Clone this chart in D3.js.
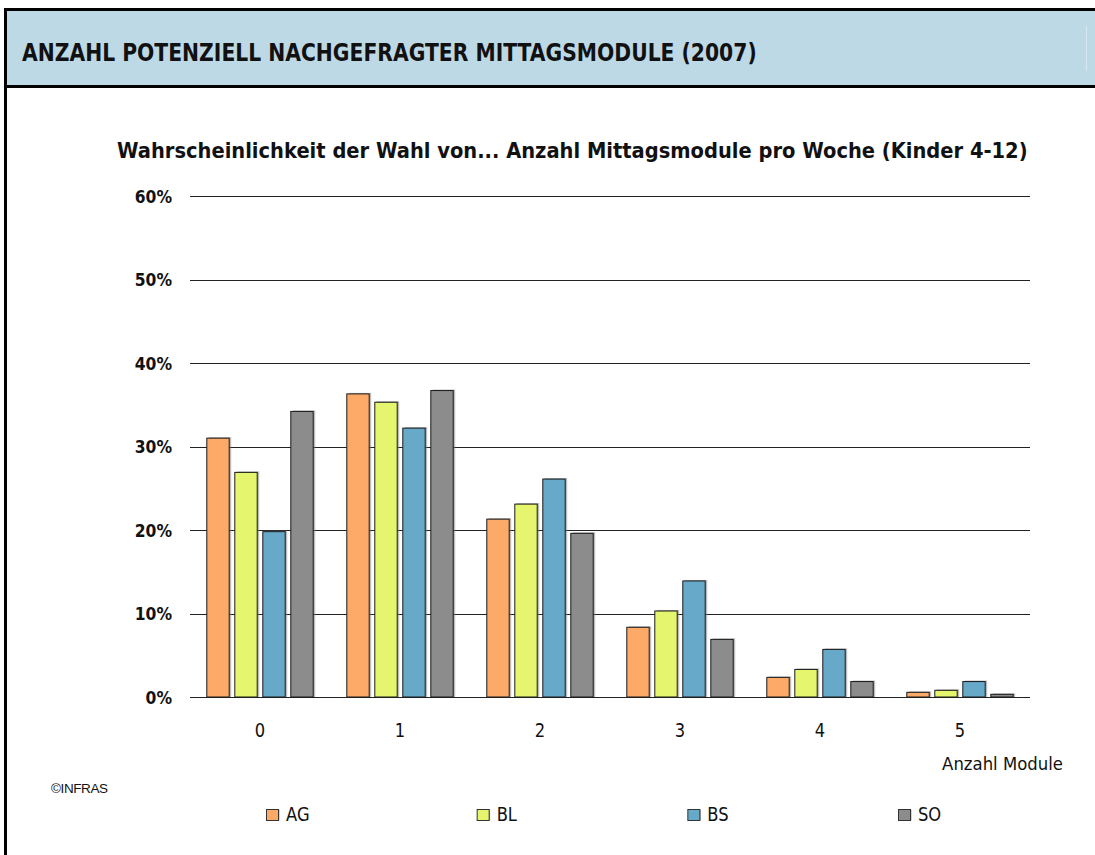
<!DOCTYPE html>
<html>
<head>
<meta charset="utf-8">
<script src="https://cdn.jsdelivr.net/npm/d3@7"></script>
<style>
  body { margin: 0; background: #fff; }
  svg text { font-family: "DejaVu Sans", sans-serif; fill: #111; }
</style>
</head>
<body>
<svg id="chart" width="1095" height="855"></svg>
<script>
// data
var categories = ["0", "1", "2", "3", "4", "5"];
var seriesNames = ["AG", "BL", "BS", "SO"];
var AG = [31.0, 36.3, 21.3, 8.35, 2.35, 0.56];
var BL = [26.9, 35.3, 23.1, 10.3, 3.3, 0.8];
var BS = [19.8, 32.2, 26.1, 13.9, 5.7, 1.85];
var SO = [34.2, 36.7, 19.6, 6.9, 1.85, 0.32];
var yTicks = [0, 10, 20, 30, 40, 50, 60];
var colors = ["#fda968", "#e6f56e", "#66a9c9", "#8c8c8c"];

var svg = d3.select("#chart");
var cfg = {
  left: 190, right: 1030,
  top: 196, bottom: 697,
  condense: 0.86
};

// frame + header band
svg.append("rect").attr("x", 7).attr("y", 11).attr("width", 1088).attr("height", 74).attr("fill", "#bed9e6");
svg.append("rect").attr("x", 4).attr("y", 8).attr("width", 1091).attr("height", 3).attr("fill", "#000");
svg.append("rect").attr("x", 4).attr("y", 85).attr("width", 1091).attr("height", 3).attr("fill", "#000");
svg.append("rect").attr("x", 4).attr("y", 8).attr("width", 3).attr("height", 847).attr("fill", "#000");
svg.append("line").attr("x1", 1086.5).attr("x2", 1086.5).attr("y1", 26).attr("y2", 71)
  .attr("stroke", "#d6e8f0").attr("stroke-width", 1);

// squeeze a text horizontally so it spans w pixels (no condensed face installed)
function placeText(x, y, size, str, w, bold, anchor) {
  var t = svg.append("text")
    .attr("transform", "translate(" + x + "," + y + ")")
    .attr("font-size", size)
    .attr("font-weight", bold ? "bold" : "normal")
    .attr("text-anchor", anchor || "start")
    .text(str);
  var len = t.node().getComputedTextLength();
  var s = w ? w / len : cfg.condense;
  t.attr("transform", "translate(" + x + "," + y + ") scale(" + s.toFixed(4) + ",1)");
  return t;
}

placeText(22, 61, 24.5, "ANZAHL POTENZIELL NACHGEFRAGTER MITTAGSMODULE (2007)", 735, true);
placeText(117, 158, 21, "Wahrscheinlichkeit der Wahl von... Anzahl Mittagsmodule pro Woche (Kinder 4-12)", 911, true);

var x0 = d3.scaleBand().domain(categories).range([cfg.left, cfg.right]).paddingInner(0.24).paddingOuter(0.12);
var x1 = d3.scaleBand().domain(seriesNames).range([0, x0.bandwidth()]).paddingInner(0.2);
var y = d3.scaleLinear().domain([0, 60]).range([cfg.bottom, cfg.top]);

// gridlines via axis
var grid = svg.append("g")
  .attr("transform", "translate(" + cfg.left + ",0)")
  .call(d3.axisRight(y).tickValues(yTicks).tickSize(cfg.right - cfg.left).tickFormat(""));
grid.select(".domain").remove();
grid.selectAll("line").attr("stroke", "#222").attr("shape-rendering", "crispEdges");

// y labels
var yAxis = svg.append("g")
  .attr("transform", "translate(172,0)")
  .call(d3.axisLeft(y).tickValues(yTicks).tickSize(0).tickPadding(0).tickFormat(function(d){ return d + "%"; }));
yAxis.select(".domain").remove();
yAxis.selectAll("text")
  .attr("font-size", 17.5).attr("font-weight", "bold")
  .attr("font-family", null)
  .attr("x", 0).attr("dy", "0.36em").attr("fill", "#111")
  .attr("transform", "scale(0.89,1)");

// x labels
var xAxis = svg.append("g")
  .attr("transform", "translate(0," + cfg.bottom + ")")
  .call(d3.axisBottom(x0).tickSize(0).tickPadding(0));
xAxis.select(".domain").remove();
xAxis.selectAll("text")
  .attr("font-size", 19)
  .attr("font-family", null)
  .attr("y", 40).attr("dy", 0).attr("fill", "#222")
  .attr("transform", "scale(" + cfg.condense + ",1)");

placeText(1063, 770, 18, "Anzahl Module", 121, false, "end");

svg.append("text")
  .attr("x", 51).attr("y", 793)
  .attr("font-size", 13.5)
  .style("font-family", "'Liberation Sans', Arial, sans-serif")
  .attr("letter-spacing", -0.4)
  .text("©INFRAS");

// bars
var series = [AG, BL, BS, SO];
var rows = categories.map(function(c, i) {
  return { cat: c, vals: seriesNames.map(function(s, k) { return { name: s, k: k, v: series[k][i] }; }) };
});

var groups = svg.append("g").selectAll("g")
  .data(rows).enter().append("g")
  .attr("transform", function(d) { return "translate(" + x0(d.cat) + ",0)"; });

// soft drop shadow
groups.selectAll("rect.shadow")
  .data(function(d) { return d.vals; }).enter().append("rect")
  .attr("class", "shadow")
  .attr("x", function(d) { return x1(d.name) + 2; })
  .attr("y", function(d) { return y(d.v) - 1; })
  .attr("width", x1.bandwidth())
  .attr("height", function(d) { return cfg.bottom - y(d.v) + 1; })
  .attr("fill", "#777").attr("opacity", 0.5);

groups.selectAll("rect.bar")
  .data(function(d) { return d.vals; }).enter().append("rect")
  .attr("class", "bar")
  .attr("x", function(d) { return x1(d.name); })
  .attr("y", function(d) { return y(d.v); })
  .attr("width", x1.bandwidth())
  .attr("height", function(d) { return cfg.bottom - y(d.v); })
  .attr("fill", function(d) { return colors[d.k]; })
  .attr("stroke", "#1a1a1a").attr("stroke-width", 1);

// legend
var legendX = d3.scalePoint().domain(seriesNames).range([266, 898]);
var leg = svg.append("g").selectAll("g")
  .data(seriesNames).enter().append("g")
  .attr("transform", function(d) { return "translate(" + legendX(d) + ",809.5)"; });
leg.append("rect").attr("x", 1.5).attr("y", 0).attr("width", 12).attr("height", 11)
  .attr("fill", "#777").attr("opacity", 0.6);
leg.append("rect").attr("x", 0.5).attr("y", 0).attr("width", 12).attr("height", 11)
  .attr("fill", function(d, i) { return colors[i]; })
  .attr("stroke", "#333").attr("stroke-width", 1);
leg.append("text")
  .attr("transform", "translate(20,11.5) scale(" + cfg.condense + ",1)")
  .attr("font-size", 19)
  .text(function(d) { return d; });
</script>
</body>
</html>
